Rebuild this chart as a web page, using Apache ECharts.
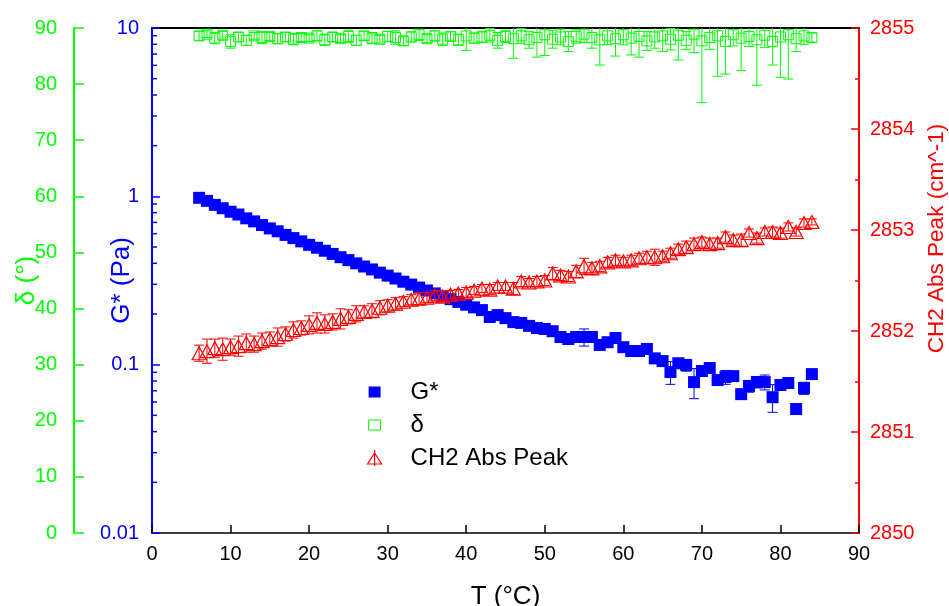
<!DOCTYPE html>
<html><head><meta charset="utf-8">
<script src="https://cdn.jsdelivr.net/npm/echarts@6/dist/echarts.min.js"></script>
<style>html,body{margin:0;padding:0;background:#fff}#c{width:949px;height:606px}</style>
</head><body><div id="c"></div>
<script>
// ---- data ----
const temps = [6,7,8,9,10,11,12,13,14,15,16,17,18,19,20,21,22,23,24,25,26,27,28,29,30,31,32,33,34,35,36,37,38,39,40,41,
 42,43,44,45,46,47,48,49,50,51,52,53,54,55,56,57,58,59,60,61,62,63,64,65,66,67,68,69,70,71,72,73,74,75,76,77,78,79,80,81,82,83,84];
const gStar = [0.98,0.94,0.89,0.85,0.81,0.78,0.74,0.71,0.675,0.645,0.62,0.59,0.565,0.54,0.515,0.495,0.475,0.455,0.435,0.418,0.40,0.383,0.368,0.352,0.338,0.325,0.311,0.299,0.287,0.276,0.265,0.255,0.245,0.236,0.227,0.219,
 0.211,0.192,0.197,0.189,0.179,0.177,0.170,0.165,0.163,0.158,0.146,0.142,0.146,0.146,0.146,0.131,0.136,0.144,0.127,0.1205,0.1205,0.124,0.109,0.105,0.0904,0.102,0.0995,0.0788,0.0917,0.0955,0.081,0.0844,0.0855,0.0668,0.0746,0.0788,0.0788,0.0641,0.0757,0.0778,0.0545,0.0726,0.0879];
const gStarErr = [0.04,0.04,0.035,0.035,0.03,0.03,0.03,0.028,0.027,0.026,0.025,0.024,0.023,0.022,0.021,0.02,0.019,0.018,0.018,0.017,0.016,0.016,0.015,0.014,0.014,0.013,0.013,0.012,0.012,0.011,0.011,0.01,0.01,0.01,0.009,0.009,
 0.009,0.008,0.008,0.008,0.007,0.007,0.007,0.007,0.007,0.006,0.006,0.006,0.006,0.017,0.006,0.005,0.008,0.006,0.005,0.005,0.005,0.005,0.005,0.005,0.014,0.005,0.008,0.016,0.004,0.004,0.004,0.008,0.004,0.004,0.006,0.006,0.008,0.012,0.005,0.005,0.003,0.006,0.004];
const delta = [88.6,88.9,88.2,88.7,87.6,88.4,87.8,88.6,88.3,88.5,88.1,88.4,88.0,88.3,88.2,88.6,87.9,88.4,88.1,88.5,87.8,88.6,88.2,88.0,88.5,88.3,87.7,88.4,88.8,88.1,88.6,88.0,88.5,87.9,88.6,88.2,
 88.4,88.7,87.8,88.5,88.1,88.6,87.9,88.3,88.8,88.0,88.4,87.6,88.5,88.9,88.3,87.9,88.6,88.1,88.8,88.2,88.5,87.7,88.4,88.6,88.0,88.7,87.8,88.9,87.7,88.3,88.6,87.6,88.8,88.2,88.5,87.9,88.7,87.6,88.4,88.8,88.1,88.6,88.3];
const deltaErr = [0.8,0.6,1.0,0.7,1.2,0.8,0.9,0.6,1.1,0.7,0.9,0.8,1.0,0.7,0.6,0.9,1.0,0.8,0.7,1.1,0.9,0.8,1.0,0.7,0.9,1.2,0.8,0.9,1.0,0.7,0.9,1.1,0.8,1.0,2.6,0.9,
 1.0,1.2,1.4,1.1,3.5,1.3,1.5,3.5,3.7,1.6,1.4,1.8,1.2,1.5,1.9,4.5,1.6,3.1,1.8,3.0,3.7,1.7,2.0,2.8,1.9,4.4,1.6,3.3,11,2.1,7.2,5.8,2.0,5.8,1.8,8.1,2.2,4.2,7.2,7.9,2.3,1.5,0.8];
const ch2Peak = [2851.78,2851.80,2851.83,2851.82,2851.84,2851.85,2851.88,2851.87,2851.90,2851.92,2851.94,2851.97,2852.01,2852.03,2852.06,2852.08,2852.07,2852.09,2852.12,2852.14,2852.17,2852.19,2852.20,2852.23,2852.25,2852.27,2852.29,2852.31,2852.32,2852.33,2852.35,2852.34,2852.36,2852.37,2852.38,2852.40,
 2852.42,2852.41,2852.44,2852.44,2852.42,2852.49,2852.48,2852.49,2852.50,2852.57,2852.55,2852.54,2852.59,2852.64,2852.62,2852.64,2852.68,2852.70,2852.69,2852.70,2852.72,2852.73,2852.73,2852.74,2852.77,2852.81,2852.83,2852.86,2852.88,2852.86,2852.87,2852.93,2852.90,2852.90,2852.97,2852.92,2852.98,2852.98,2852.97,2853.03,2852.98,2853.07,2853.08];
const ch2Err = [0.08,0.12,0.09,0.11,0.08,0.10,0.09,0.08,0.08,0.07,0.09,0.07,0.08,0.07,0.09,0.10,0.09,0.08,0.10,0.07,0.08,0.06,0.07,0.07,0.06,0.06,0.05,0.05,0.06,0.05,0.05,0.05,0.04,0.04,0.05,0.04,
 0.04,0.05,0.04,0.04,0.06,0.05,0.04,0.05,0.05,0.06,0.05,0.05,0.06,0.08,0.06,0.05,0.05,0.05,0.04,0.05,0.05,0.06,0.08,0.05,0.05,0.05,0.06,0.06,0.05,0.06,0.05,0.05,0.05,0.06,0.04,0.05,0.04,0.05,0.05,0.04,0.04,0.04,0.03];
const gTickLabels = ['0.01','0.1','1','10'];
const gMinorTicks = [0.02,0.03,0.04,0.05,0.06,0.07,0.08,0.09,0.2,0.3,0.4,0.5,0.6,0.7,0.8,0.9,2,3,4,5,6,7,8,9];
const seriesNames = ['G*','δ','CH2 Abs Peak'];

// ---- chart ----
const FONT = '"Liberation Sans", Arial, sans-serif';
const BLUE = '#0000ff', GREEN = '#00ff00', RED = '#ff0000';
const chart = echarts.init(document.getElementById('c'), null, {renderer: 'canvas'});

function errSeries(vals, errs, yIdx, color, z) {
  return {
    type: 'custom', xAxisIndex: 0, yAxisIndex: yIdx, silent: true, clip: true, z: z,
    encode: {x: 0, y: [1, 2]},
    data: temps.map((t, i) => [t, vals[i] - errs[i], vals[i] + errs[i]]),
    renderItem(params, api) {
      const x = api.value(0);
      const lo = api.coord([x, api.value(1)]);
      const hi = api.coord([x, api.value(2)]);
      const w = 5;
      const st = {stroke: color, lineWidth: 1};
      return {type: 'group', children: [
        {type: 'line', shape: {x1: lo[0], y1: lo[1], x2: hi[0], y2: hi[1]}, style: st},
        {type: 'line', shape: {x1: lo[0] - w, y1: lo[1], x2: lo[0] + w, y2: lo[1]}, style: st},
        {type: 'line', shape: {x1: hi[0] - w, y1: hi[1], x2: hi[0] + w, y2: hi[1]}, style: st}
      ]};
    }
  };
}

const option = {
  animation: false,
  backgroundColor: '#fff',
  textStyle: {fontFamily: FONT},
  grid: {left: 152, right: 90, top: 28, bottom: 73, containLabel: false, outerBoundsMode: 'none'},
  legend: {
    orient: 'vertical', left: 361, top: 375, itemGap: 9,
    itemWidth: 16, itemHeight: 16,
    textStyle: {fontSize: 24, fontFamily: FONT, color: '#000', lineHeight: 24, padding: [0, 0, 0, 23]},
    data: [
      {name: seriesNames[0], icon: 'path://M0,0 M16,16 M2,2.5 L14,2.5 L14,13.5 L2,13.5 Z',
       itemStyle: {color: BLUE, borderWidth: 0}},
      {name: seriesNames[1], icon: 'path://M0,0 M16,16 M2,3 L14,3 L14,13 L2,13 Z',
       itemStyle: {color: 'rgba(255,255,255,0)', borderColor: GREEN, borderWidth: 1}},
      {name: seriesNames[2], icon: 'path://M0,0 M16,16 M8,0 L8,16 M8,3 L15,14 L1,14 Z',
       itemStyle: {color: 'rgba(255,255,255,0)', borderColor: RED, borderWidth: 1.2}}
    ]
  },
  xAxis: [
    {type: 'value', min: 0, max: 90, interval: 10, position: 'bottom',
     name: 'T (°C)', nameLocation: 'middle', nameGap: 51, nameMoveOverlap: false,
     nameTextStyle: {fontSize: 26, color: '#000', fontFamily: FONT},
     axisLine: {lineStyle: {color: '#000', width: 1.5}},
     axisTick: {inside: true, length: 8, lineStyle: {color: '#000', width: 1.5}},
     axisLabel: {fontSize: 20, color: '#000', margin: 11, fontFamily: FONT},
     splitLine: {show: false}},
    {type: 'value', min: 0, max: 90, position: 'top',
     axisLine: {show: true, onZero: false, lineStyle: {color: '#000', width: 2}},
     axisTick: {show: false}, axisLabel: {show: false}, splitLine: {show: false}}
  ],
  yAxis: [
    {type: 'log', logBase: 10, min: 0.01, max: 10, position: 'left',
     name: 'G* (Pa)', nameLocation: 'middle', nameGap: 17, nameRotate: 90, nameMoveOverlap: false,
     nameTextStyle: {fontSize: 26, color: BLUE, fontFamily: FONT},
     axisLine: {show: true, onZero: false, lineStyle: {color: BLUE, width: 2}},
     axisTick: {inside: true, length: 8, lineStyle: {color: BLUE, width: 1.5}},
     axisLabel: {fontSize: 20, color: BLUE, margin: 13, fontFamily: FONT,
                 formatter: (v, i) => gTickLabels[i] !== undefined ? gTickLabels[i] : ''},
     splitLine: {show: false}},
    {type: 'value', min: 0, max: 90, interval: 10, position: 'left', offset: 78,
     name: 'δ (°)', nameLocation: 'middle', nameGap: 34, nameRotate: 90, nameMoveOverlap: false,
     nameTextStyle: {fontSize: 26, color: GREEN, fontFamily: FONT},
     axisLine: {show: true, onZero: false, lineStyle: {color: GREEN, width: 2}},
     axisTick: {inside: true, length: 10, lineStyle: {color: GREEN, width: 1.5}},
     axisLabel: {fontSize: 20, color: GREEN, margin: 17, fontFamily: FONT},
     splitLine: {show: false}},
    {type: 'value', min: 2850, max: 2855, interval: 1, position: 'right',
     name: 'CH2 Abs Peak (cm^-1)', nameLocation: 'middle', nameGap: 66, nameRotate: 90, nameMoveOverlap: false,
     nameTextStyle: {fontSize: 22.5, color: RED, fontFamily: FONT, padding: [0, 0, 0, 84]},
     axisLine: {show: true, onZero: false, lineStyle: {color: RED, width: 2}},
     axisTick: {inside: true, length: 8, lineStyle: {color: RED, width: 1.5}},
     minorTick: {show: true, splitNumber: 2, length: 4, lineStyle: {color: RED, width: 1.5}},
     axisLabel: {fontSize: 20, color: RED, margin: 11, fontFamily: FONT, formatter: v => String(v)},
     splitLine: {show: false}}
  ],
  series: [
    // minor ticks for log axis
    {type: 'custom', xAxisIndex: 0, yAxisIndex: 0, silent: true, clip: false, z: 5,
     data: gMinorTicks.map(v => [0, v]),
     renderItem(params, api) {
       const p = api.coord([api.value(0), api.value(1)]);
       return {type: 'line', shape: {x1: p[0], y1: p[1], x2: p[0] + 5, y2: p[1]}, style: {stroke: BLUE, lineWidth: 1.5}};
     }},
    errSeries(gStar, gStarErr, 0, BLUE, 2),
    {name: seriesNames[0], type: 'scatter', xAxisIndex: 0, yAxisIndex: 0, z: 3,
     symbol: 'rect', symbolSize: 12, itemStyle: {color: BLUE, opacity: 1},
     data: temps.map((t, i) => [t, gStar[i]])},
    errSeries(delta, deltaErr, 1, GREEN, 4),
    {name: seriesNames[1], type: 'scatter', xAxisIndex: 0, yAxisIndex: 1, z: 4, clip: true,
     symbol: 'rect', symbolSize: 10,
     itemStyle: {color: 'rgba(255,255,255,0)', borderColor: GREEN, borderWidth: 1, opacity: 1},
     data: temps.map((t, i) => [t, delta[i]])},
    errSeries(ch2Peak, ch2Err, 2, RED, 6),
    {name: seriesNames[2], type: 'scatter', xAxisIndex: 0, yAxisIndex: 2, z: 6,
     symbol: 'triangle', symbolSize: [14, 13],
     itemStyle: {color: 'rgba(255,255,255,0)', borderColor: RED, borderWidth: 1.2, opacity: 1},
     data: temps.map((t, i) => [t, ch2Peak[i]])}
  ]
};
chart.setOption(option);
</script>
</body></html>
